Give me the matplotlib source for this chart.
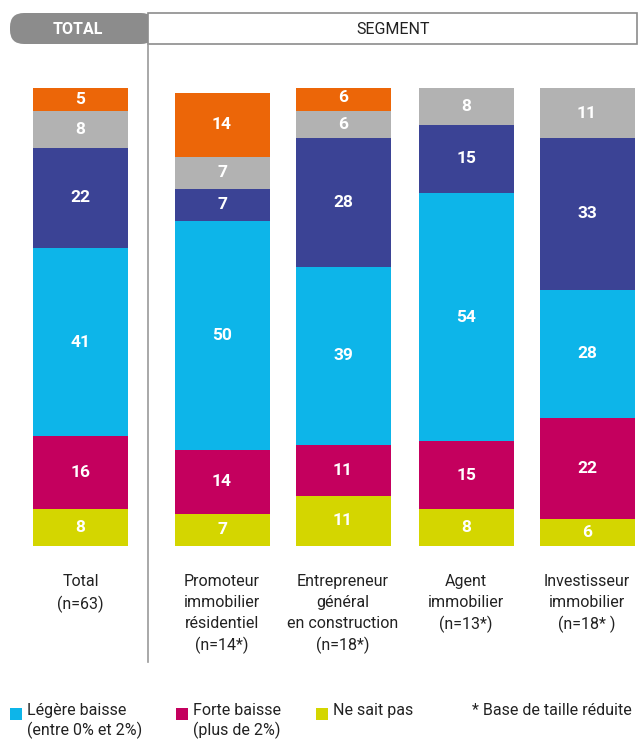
import numpy as np
import matplotlib.pyplot as plt
from matplotlib.patches import FancyBboxPatch, Rectangle

plt.rcParams['font.family'] = ['Roboto', 'DejaVu Sans']

categories = ["Total\n(n=63)",
              "Promoteur\nimmobilier\nrésidentiel\n(n=14*)",
              "Entrepreneur\ngénéral\nen construction\n(n=18*)",
              "Agent\nimmobilier\n(n=13*)",
              "Investisseur\nimmobilier\n(n=18* )"]

# stacked from the bottom up
ne_sait_pas = [8, 7, 11, 8, 6]
forte_baisse = [16, 14, 11, 15, 22]
legere_baisse = [41, 50, 39, 54, 28]
stable = [22, 7, 28, 15, 33]
gris = [8, 7, 6, 8, 11]
hausse = [5, 14, 6, 0, 0]

series = [ne_sait_pas, forte_baisse, legere_baisse, stable, gris, hausse]
colors = ['#D4D600', '#C4005E', '#0DB5E9', '#3B4395', '#B2B2B2', '#EC6608']

W, H = 638, 744
fig = plt.figure(figsize=(W / 100, H / 100), dpi=100)

# overlay axes in pixel coordinates for the frame and legend
bg = fig.add_axes([0, 0, 1, 1])
bg.set_xlim(0, W)
bg.set_ylim(H, 0)
bg.axis('off')

# header
bg.add_patch(FancyBboxPatch((10, 13), 145, 31, boxstyle="round,pad=0,rounding_size=14",
                            fc='#8C8C8C', ec='none'))
bg.add_patch(Rectangle((148, 13), 489, 31, fc='white', ec='#8C8C8C', lw=1.2))
bg.text(78, 29, "TOTAL", ha='center', va='center', color='white', fontsize=11.5, fontweight='bold')
bg.text(393, 29, "SEGMENT", ha='center', va='center', color='#222222', fontsize=11.5)
bg.plot([148, 148], [44, 662], color='#9A9A9A', lw=1.2)

# bars
ax = fig.add_axes([0, (H - 546) / H, 1, (546 - 88) / H])
ax.set_xlim(0, W)
ax.set_ylim(0, 100)
ax.axis('off')
xpos = np.array([80.5, 222, 343, 466, 587])
width = 95
bottom = np.zeros(len(categories))
for vals, c in zip(series, colors):
    vals = np.array(vals, dtype=float)
    ax.bar(xpos, vals, width, bottom=bottom, color=c, edgecolor='none')
    for x, b, v in zip(xpos, bottom, vals):
        if v > 0:
            ax.text(x, b + v / 2, f"{v:.0f}", ha='center', va='center',
                    color='white', fontsize=12.5, fontweight='bold')
    bottom += vals

# category labels
for x, lab in zip(xpos, categories):
    bg.text(x, 574, lab, ha='center', va='top', fontsize=11.5, color='#222222',
            linespacing=1.48)

# legend
legend_items = [(10, "Légère baisse\n(entre 0% et 2%)", colors[2]),
                (176, "Forte baisse\n(plus de 2%)", colors[1]),
                (316, "Ne sait pas", colors[0])]
for x, lab, c in legend_items:
    bg.add_patch(Rectangle((x, 708), 12, 12, fc=c, ec='none'))
    bg.text(x + 17, 703, lab, ha='left', va='top', fontsize=11.5, color='#222222',
            linespacing=1.3)
bg.text(472, 703, "* Base de taille réduite", ha='left', va='top', fontsize=11.5, color='#222222')

fig.savefig("out.png", dpi=100)
